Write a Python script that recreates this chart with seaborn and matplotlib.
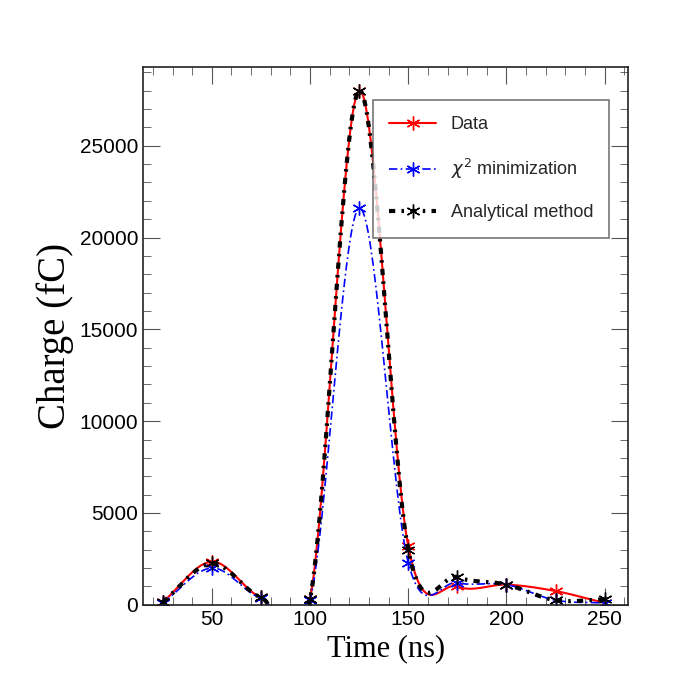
import numpy as np
import seaborn as sns
import matplotlib.pyplot as plt
from matplotlib.ticker import MultipleLocator

sns.set_style("ticks")
plt.rcParams['font.family'] = ['Liberation Sans', 'DejaVu Sans']

time_ns = [25, 50, 75, 100, 125, 150, 175, 200, 225, 250]
data_q = [150, 2350, 400, 300, 28000, 3200, 1000, 1100, 750, 100]
chi2_q = [100, 2000, 350, 250, 21600, 2300, 1200, 1100, 250, 100]
anal_q = [150, 2250, 400, 300, 28000, 3000, 1500, 1100, 250, 300]


# Catmull-Rom spline through the points, like ROOT's "C" option
def smooth(x, y, n=40):
    x = np.asarray(x, float); y = np.asarray(y, float)
    px = np.concatenate([[2 * x[0] - x[1]], x, [2 * x[-1] - x[-2]]])
    py = np.concatenate([[2 * y[0] - y[1]], y, [2 * y[-1] - y[-2]]])
    xs, ys = [], []
    for i in range(1, len(px) - 2):
        t = np.linspace(0, 1, n)
        for p, out in ((px, xs), (py, ys)):
            p0, p1, p2, p3 = p[i - 1], p[i], p[i + 1], p[i + 2]
            out.append(0.5 * (2 * p1 + (-p0 + p2) * t + (2 * p0 - 5 * p1 + 4 * p2 - p3) * t ** 2
                              + (-p0 + 3 * p1 - 3 * p2 + p3) * t ** 3))
    return np.concatenate(xs), np.concatenate(ys)


fig = plt.figure(figsize=(6.98, 6.75), dpi=100)
ax = fig.add_axes([0.205, 0.104, 0.695, 0.797])

series = [
    (data_q, 'Data', 'red', dict(ls='-', lw=1.5)),
    (chi2_q, r'$\chi^{2}$ minimization', 'blue', dict(dashes=(5, 2, 1, 2), lw=1.2)),
    (anal_q, 'Analytical method', 'black', dict(dashes=(1.5, 1.5, 0.6, 1.5), lw=3)),
]
for y, label, color, style in series:
    sx, sy = smooth(time_ns, y)
    sns.lineplot(x=sx, y=sy, ax=ax, color=color, sort=False, **style)
    ax.plot(time_ns, y, ls='none', marker=(6, 2, 0), ms=10, mec=color, mew=1)
    ax.plot([], [], color=color, marker=(6, 2, 0), ms=10, mew=1, label=label, **style)

ax.set_xlim(15, 262)
ax.set_ylim(0, 29300)
ax.xaxis.set_major_locator(MultipleLocator(50))
ax.xaxis.set_minor_locator(MultipleLocator(10))
ax.yaxis.set_major_locator(MultipleLocator(5000))
ax.yaxis.set_minor_locator(MultipleLocator(1000))
ax.tick_params(which='both', direction='in', top=True, right=True, labelsize=15,
               color='#555555', labelcolor='black')
ax.tick_params(which='major', length=12)
ax.tick_params(which='minor', length=6)
for s in ax.spines.values():
    s.set_linewidth(1.2)
    s.set_color('#222222')

ax.set_xlabel('Time (ns)', family='Liberation Serif', fontsize=22, color='black')
ax.set_ylabel('Charge (fC)', family='Liberation Serif', fontsize=28, color='black')

leg = ax.legend(loc='upper right', bbox_to_anchor=(0.98, 0.955), fontsize=13, frameon=True,
                fancybox=False, edgecolor='#555555', labelspacing=1.3, borderpad=0.9,
                handlelength=2.6)
leg.get_frame().set_linewidth(1.2)

fig.savefig('out.png', dpi=100)
